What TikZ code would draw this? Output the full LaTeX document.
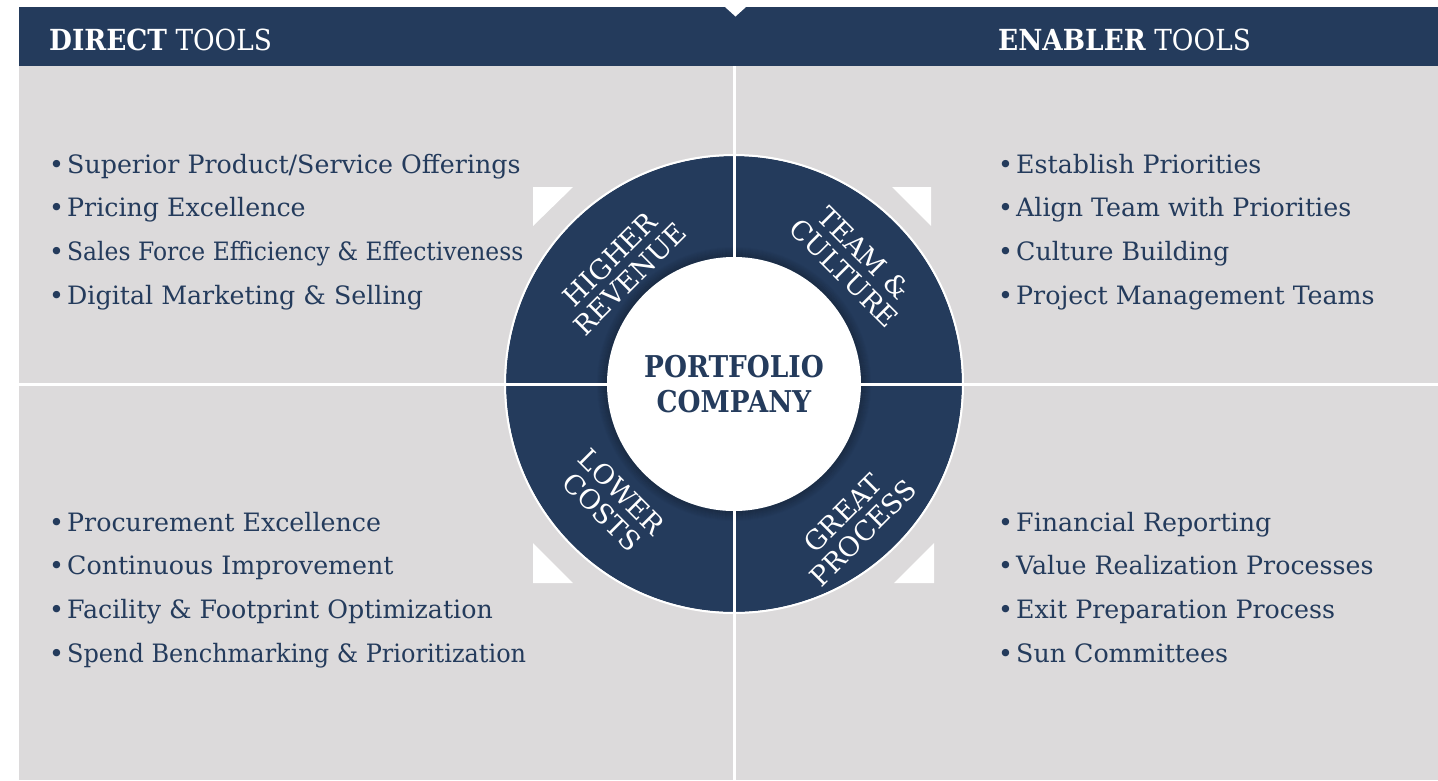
\documentclass[tikz,border=0pt]{standalone}
\usepackage{fontspec}
\setmainfont{DejaVu Serif}
\newfontfamily\headfont{DejaVu Serif}[FakeStretch=0.91]
\newfontfamily\hubfont{DejaVu Serif}[FakeStretch=0.88]
\definecolor{navy}{HTML}{243B5C}
\definecolor{panel}{HTML}{DCDADB}
\begin{document}
\begin{tikzpicture}[x=1pt,y=-1pt,
  item/.style={anchor=base west, text=navy, font=\fontsize{25.3}{30}\selectfont, inner sep=0pt},
  ringlabel/.style={text=white, align=center, font=\fontsize{27}{28}\selectfont, inner sep=0pt},
  head/.style={text=white, anchor=base west, font=\headfont\fontsize{29}{34}\selectfont, inner sep=0pt},
  hubtext/.style={text=navy, font=\hubfont\bfseries\fontsize{30}{35}\selectfont, inner sep=0pt, anchor=base},
  corner/.style={fill=white},
  gap/.style={fill=white}]
\useasboundingbox (0,0) rectangle (1438,780);
\fill[white] (0,0) rectangle (1438,780);

% panels and header band
\fill[panel] (19,66) rectangle (1438,780);
\fill[navy] (19,7) rectangle (1438,66);
\fill[white] (725,7) -- (746,7) -- (735.5,16.5) -- cycle;
\node[head] (direct) at (49,50) {\textbf{DIRECT} TOOLS};
\node[head] (enabler) at (998,50) {\textbf{ENABLER} TOOLS};

% ring with soft inner shadow
\fill[navy] (734,384) circle[radius=228];
\foreach \k in {1,...,10}
  \draw[black, opacity={0.22*(1-\k/11)}, line width=1.1pt] (734,384) circle[radius=126.5+\k];

% white gaps between the four quadrants
\fill[gap] (732.5,66) rectangle (735.5,780);
\fill[gap] (19,382.5) rectangle (1438,385.5);

% hub and outer rim
\fill[white] (734,384) circle[radius=127];
\draw[white, line width=2pt] (734,384) circle[radius=229];
\node[hubtext] (hub) at (734,377) {PORTFOLIO};
\node[hubtext] (hub2) at (734,412) {COMPANY};

% quadrant labels
\node[ringlabel, rotate=45] (rev) at (620,269) {HIGHER\\REVENUE};
\node[ringlabel, rotate=-45] (team) at (854,263) {TEAM \&\\CULTURE};
\node[ringlabel, rotate=-45] (cost) at (612,502) {LOWER\\COSTS};
\node[ringlabel, rotate=45] (proc) at (853,523) {GREAT\\PROCESS};

% corner markers
\fill[corner] (533,187) -- (573,187) -- (533,226) -- cycle;
\fill[corner] (931,187) -- (892,187) -- (931,226) -- cycle;
\fill[corner] (533,583) -- (533,543) -- (573,583) -- cycle;
\fill[corner] (934,583) -- (934,543) -- (894,583) -- cycle;

% bullet lists
\newcommand{\bul}[1]{\makebox[18pt][l]{•}#1}
\foreach \t [count=\i] in {Superior Product/Service Offerings, Pricing Excellence,
    \scalebox{0.926}[1]{Sales Force Efficiency \& Effectiveness}, Digital Marketing \& Selling}
  \node[item] (dt\i) at (49,{173+43.7*(\i-1)}) {\bul{\t}};
\foreach \t [count=\i] in {Procurement Excellence, Continuous Improvement,
    Facility \& Footprint Optimization, \scalebox{0.948}[1]{Spend Benchmarking \& Prioritization}}
  \node[item] (db\i) at (49,{531+43.7*(\i-1)}) {\bul{\t}};
\foreach \t [count=\i] in {Establish Priorities, Align Team with Priorities,
    Culture Building, Project Management Teams}
  \node[item] (et\i) at (998,{173+43.7*(\i-1)}) {\bul{\t}};
\foreach \t [count=\i] in {Financial Reporting, Value Realization Processes,
    Exit Preparation Process, Sun Committees}
  \node[item] (eb\i) at (998,{531+43.7*(\i-1)}) {\bul{\t}};
\end{tikzpicture}
\end{document}
